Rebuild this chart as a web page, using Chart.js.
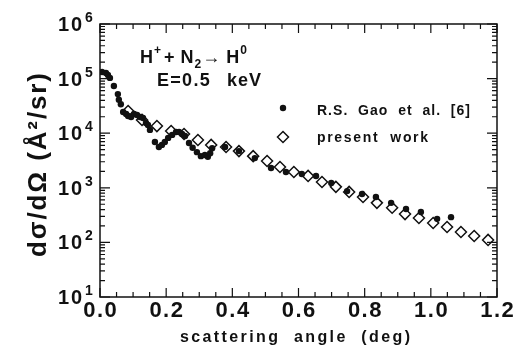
<!DOCTYPE html>
<html lang="en">
<head>
  <meta charset="UTF-8">
  <title>H+ + N2 -> H0 differential cross section</title>
  <script src="https://cdn.jsdelivr.net/npm/chart.js"></script>
  <style>
    html, body {
      margin: 0;
      padding: 0;
      background-color: #ffffff;
    }
    .chart-container {
      width: 513px;
      height: 349px;
      position: relative;
    }
  </style>
</head>
<body>

  <div class="chart-container">
    <canvas id="xsChart"></canvas>
  </div>

  <script>
    // R.S. Gao et al. [6] (filled dots)
    const gaoAngle = [0.006, 0.018, 0.024, 0.030, 0.042, 0.054, 0.057, 0.063, 0.070, 0.079,
                      0.085, 0.094, 0.103, 0.112, 0.121, 0.130, 0.139, 0.145, 0.151, 0.166,
                      0.178, 0.187, 0.196, 0.206, 0.218, 0.230, 0.239, 0.248, 0.257, 0.269,
                      0.280, 0.293, 0.305, 0.317, 0.326, 0.333, 0.339, 0.378, 0.420, 0.468,
                      0.517, 0.562, 0.610, 0.653, 0.699, 0.747, 0.792, 0.834, 0.880, 0.925,
                      0.970, 1.019, 1.061];
    const gaoXs = [132000, 127000, 117000, 103000, 73000, 52000, 41000, 34000, 24500, 22500,
                   20700, 19800, 22500, 21600, 19800, 19000, 15400, 14100, 11500, 6900,
                   5600, 6100, 6900, 8200, 9300, 10500, 10500, 9700, 8900, 6600,
                   5400, 4500, 3800, 4000, 3700, 4300, 5300, 5600, 4700, 3500,
                   2300, 1950, 1790, 1650, 1230, 870, 770, 680, 530, 410,
                   360, 270, 290];

    // present work (open diamonds)
    const presentAngle = [0.085, 0.127, 0.172, 0.215, 0.254, 0.296, 0.336, 0.381, 0.420, 0.463,
                          0.505, 0.544, 0.586, 0.629, 0.671, 0.713, 0.753, 0.795, 0.837, 0.883,
                          0.922, 0.964, 1.007, 1.049, 1.091, 1.131, 1.173];
    const presentXs = [25500, 17500, 13500, 11000, 9650, 7500, 6100, 5600, 4700, 3800,
                       3100, 2400, 1950, 1650, 1280, 1040, 840, 680, 530, 430,
                       330, 280, 227, 191, 155, 131, 111];

    const xTickLabels = ['0.0', '0.2', '0.4', '0.6', '0.8', '1.0', '1.2'];
    const yTickExponents = [1, 2, 3, 4, 5, 6];

    const INK = '#111';
    const FONT = '"Liberation Sans", Arial, Helvetica, sans-serif';

    // draws text char by char so it can be stretched to a given width
    function spacedText(ctx, str, x, y, spacing) {
      for (const ch of str) {
        ctx.fillText(ch, x, y);
        x += ctx.measureText(ch).width + spacing;
      }
      return x;
    }
    function fitText(ctx, str, x0, x1, y) {
      const chars = [...str];
      let natural = 0;
      chars.forEach(ch => natural += ctx.measureText(ch).width);
      const spacing = (x1 - x0 - natural) / Math.max(1, chars.length - 1);
      spacedText(ctx, str, x0, y, spacing);
    }

    const framePlugin = {
      id: 'frame',
      afterDraw(chart) {
        const ctx = chart.ctx;
        const a = chart.chartArea;
        const xs = chart.scales.x;
        const ys = chart.scales.y;
        ctx.save();
        ctx.strokeStyle = INK;
        ctx.fillStyle = INK;

        // box
        ctx.lineWidth = 1.5;
        ctx.strokeRect(a.left, a.top, a.right - a.left, a.bottom - a.top);

        // inward ticks, x
        ctx.lineWidth = 1.2;
        ctx.beginPath();
        for (let i = 0; i <= 24; i++) {
          const v = i * 0.05;
          const px = xs.getPixelForValue(v);
          const len = (i % 4 === 0) ? 9 : 5;
          ctx.moveTo(px, a.bottom); ctx.lineTo(px, a.bottom - len);
          ctx.moveTo(px, a.top); ctx.lineTo(px, a.top + len);
        }
        // inward ticks, y (log)
        for (let k = 1; k <= 6; k++) {
          for (let m = 1; m <= 9; m++) {
            if (k === 6 && m > 1) break;
            const py = ys.getPixelForValue(m * Math.pow(10, k));
            const len = (m === 1) ? 10 : 5;
            ctx.moveTo(a.left, py); ctx.lineTo(a.left + len, py);
            ctx.moveTo(a.right, py); ctx.lineTo(a.right - len, py);
          }
        }
        ctx.stroke();

        // x tick labels
        ctx.font = 'bold 22px ' + FONT;
        ctx.textBaseline = 'alphabetic';
        xTickLabels.forEach(lbl => {
          const px = xs.getPixelForValue(parseFloat(lbl));
          let w = 0;
          for (const ch of lbl) w += ctx.measureText(ch).width + 1.5;
          spacedText(ctx, lbl, px - (w - 1.5) / 2, a.bottom + 20, 1.5);
        });

        // y tick labels 10^k
        yTickExponents.forEach(k => {
          const py = ys.getPixelForValue(Math.pow(10, k));
          ctx.font = 'bold 20px ' + FONT;
          spacedText(ctx, '10', a.left - 42, py + 7, 2);
          ctx.font = 'bold 14px ' + FONT;
          ctx.fillText(String(k), a.left - 15, py - 2);
        });

        // x axis title
        ctx.font = 'bold 16px ' + FONT;
        fitText(ctx, 'scattering  angle  (deg)', 180, 410, 342);

        // y axis title
        ctx.save();
        ctx.translate(46, 165);
        ctx.rotate(-Math.PI / 2);
        ctx.font = 'bold 26px ' + FONT;
        fitText(ctx, 'd\u03c3/d\u03a9 (\u00c5\u00b2/sr)', -92, 92, 0);
        ctx.restore();

        // reaction annotation
        let x = 140;
        const big = 'bold 18px ' + FONT, small = 'bold 12px ' + FONT;
        ctx.font = big; x = spacedText(ctx, 'H', x, 63, 1);
        ctx.font = small; x = spacedText(ctx, '+', x, 54, 1);
        ctx.font = big; x = spacedText(ctx, '+', x + 2, 63, 1);
        x = spacedText(ctx, 'N', x + 5, 63, 1);
        ctx.font = small; x = spacedText(ctx, '2', x, 68, 1);
        ctx.font = big; x = spacedText(ctx, '\u2192', x, 63, 1);
        x = spacedText(ctx, 'H', x + 5, 63, 1);
        ctx.font = small; spacedText(ctx, '0', x, 54, 1);

        ctx.font = big;
        spacedText(ctx, 'E=0.5', 157, 86, 1.3);
        spacedText(ctx, 'keV', 227, 86, 1);

        // legend
        ctx.beginPath();
        ctx.arc(283, 108, 3.2, 0, Math.PI * 2);
        ctx.fill();
        ctx.lineWidth = 1.5;
        ctx.beginPath();
        ctx.moveTo(283, 131.5); ctx.lineTo(288.5, 137); ctx.lineTo(283, 142.5); ctx.lineTo(277.5, 137);
        ctx.closePath();
        ctx.stroke();
        ctx.font = 'bold 14px ' + FONT;
        fitText(ctx, 'R.S.  Gao  et  al.  [6]', 317, 470, 115);
        fitText(ctx, 'present  work', 317, 428, 142);

        ctx.restore();
      }
    };

    const ctx = document.getElementById('xsChart').getContext('2d');
    const xsChart = new Chart(ctx, {
      type: 'scatter',
      data: {
        datasets: [
          {
            label: 'R.S. Gao et al. [6]',
            data: gaoAngle.map((a, i) => ({ x: a, y: gaoXs[i] })),
            pointStyle: 'circle',
            pointRadius: 3.2,
            pointBackgroundColor: INK,
            pointBorderWidth: 0
          },
          {
            label: 'present work',
            data: presentAngle.map((a, i) => ({ x: a, y: presentXs[i] })),
            pointStyle: 'rectRot',
            pointRadius: 5.5,
            pointBackgroundColor: 'rgba(0,0,0,0)',
            pointBorderColor: INK,
            pointBorderWidth: 1.5
          }
        ]
      },
      options: {
        responsive: true,
        maintainAspectRatio: false,
        animation: false,
        layout: { padding: { left: 100, right: 16, top: 24, bottom: 52 } },
        plugins: {
          legend: { display: false },
          tooltip: { enabled: false }
        },
        scales: {
          x: { type: 'linear', min: 0, max: 1.2, display: false },
          y: { type: 'logarithmic', min: 10, max: 1e6, display: false }
        }
      },
      plugins: [framePlugin]
    });
  </script>

</body>
</html>
